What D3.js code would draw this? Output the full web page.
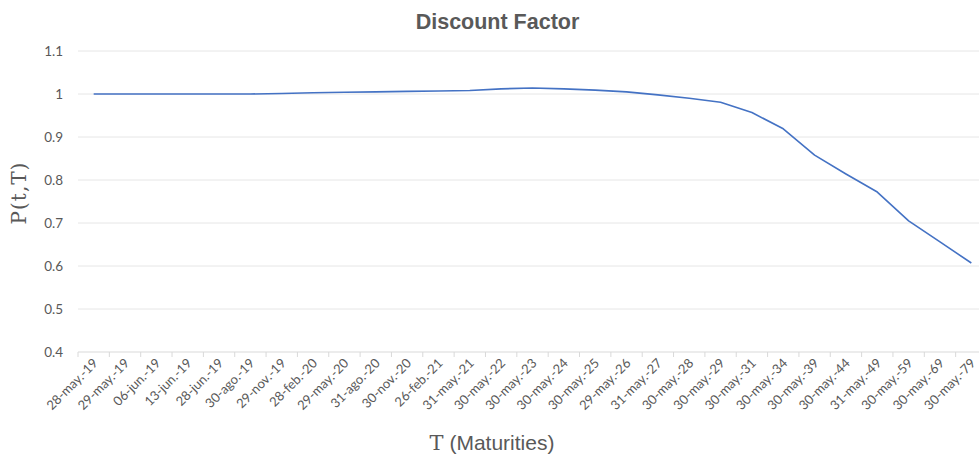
<!DOCTYPE html>
<html>
<head>
<meta charset="utf-8">
<script src="https://cdn.jsdelivr.net/npm/d3@7"></script>
<style>
  html, body { margin: 0; padding: 0; background: #fff; }
  svg { display: block; }
</style>
</head>
<body>
<svg id="chart" width="979" height="455"></svg>
<script>
// Maturity dates (category axis)
const maturities = [
  "28-may.-19", "29-may.-19", "06-jun.-19", "13-jun.-19", "28-jun.-19",
  "30-ago.-19", "29-nov.-19", "28-feb.-20", "29-may.-20", "31-ago.-20",
  "30-nov.-20", "26-feb.-21", "31-may.-21", "30-may.-22", "30-may.-23",
  "30-may.-24", "30-may.-25", "29-may.-26", "31-may.-27", "30-may.-28",
  "30-may.-29", "30-may.-31", "30-may.-34", "30-may.-39", "30-may.-44",
  "31-may.-49", "30-may.-59", "30-may.-69", "30-may.-79"
];

// Discount factor P(t,T) for each maturity
const discountFactors = [
  1.000, 1.000, 1.000, 1.000, 1.000,
  1.000, 1.001, 1.003, 1.004, 1.005,
  1.006, 1.007, 1.008, 1.012, 1.014,
  1.012, 1.009, 1.005, 0.998, 0.990,
  0.981, 0.957, 0.919, 0.858, 0.814,
  0.772, 0.705, 0.656, 0.607
];

// Value axis ticks
const yTicks = [0.4, 0.5, 0.6, 0.7, 0.8, 0.9, 1, 1.1];

const svg = d3.select("#chart");
const plot = { left: 78, right: 987, top: 51, bottom: 352 };
const labelFont = "Lato, 'Open Sans', sans-serif";
const mathFont = "'DejaVu Serif', 'Liberation Serif', serif";
const textColor = "#595959";

const x = d3.scaleBand().domain(maturities).range([plot.left, plot.right]).paddingInner(0).paddingOuter(0);
const y = d3.scaleLinear().domain([0.4, 1.1]).range([plot.bottom, plot.top]);

// Horizontal gridlines
svg.append("g")
  .selectAll("line")
  .data(yTicks.filter(d => d !== 0.4))
  .join("line")
  .attr("x1", plot.left).attr("x2", plot.right)
  .attr("y1", d => y(d)).attr("y2", d => y(d))
  .attr("stroke", "#e6e6e6").attr("stroke-width", 1);

// Y axis labels
const yAxis = d3.axisLeft(y).tickValues(yTicks).tickSize(0).tickPadding(15)
  .tickFormat(d => d3.format("~g")(d));
const gy = svg.append("g").attr("transform", `translate(${plot.left},0)`).call(yAxis);
gy.select(".domain").remove();
gy.selectAll("text")
  .attr("font-family", labelFont).attr("font-size", 13.5)
  .attr("fill", textColor);

// Category axis with tick marks at band boundaries
svg.append("line")
  .attr("x1", plot.left).attr("x2", plot.right)
  .attr("y1", plot.bottom).attr("y2", plot.bottom)
  .attr("stroke", "#d9d9d9").attr("stroke-width", 1);

const boundaries = maturities.map(m => x(m)).concat([plot.right]);
svg.append("g")
  .selectAll("line")
  .data(boundaries)
  .join("line")
  .attr("x1", d => d).attr("x2", d => d)
  .attr("y1", plot.bottom).attr("y2", plot.bottom + 5)
  .attr("stroke", "#d9d9d9").attr("stroke-width", 1);

svg.append("g")
  .selectAll("text")
  .data(maturities)
  .join("text")
  .attr("transform", d => `translate(${x(d) + x.bandwidth() / 2 + 5},${plot.bottom + 12}) rotate(-45)`)
  .attr("text-anchor", "end")
  .attr("font-family", labelFont)
  .attr("font-size", 13)
  .attr("fill", textColor)
  .text(d => d);

// Discount factor curve
const line = d3.line()
  .x((d, i) => x(maturities[i]) + x.bandwidth() / 2)
  .y(d => y(d));

svg.append("path")
  .datum(discountFactors)
  .attr("d", line)
  .attr("fill", "none")
  .attr("stroke", "#4472C4")
  .attr("stroke-width", 1.6)
  .attr("stroke-linejoin", "round");

// Title
svg.append("text")
  .attr("x", 497.5).attr("y", 29)
  .attr("text-anchor", "middle")
  .attr("font-family", "'Liberation Sans', Arial, sans-serif")
  .attr("font-weight", "bold")
  .attr("font-size", 21.5)
  .attr("fill", textColor)
  .text("Discount Factor");

// Axis titles
const xTitle = svg.append("text")
  .attr("x", 492).attr("y", 450)
  .attr("text-anchor", "middle")
  .attr("font-size", 21)
  .attr("fill", textColor);
xTitle.append("tspan").attr("font-family", mathFont).text("T");
xTitle.append("tspan").attr("font-family", "'Liberation Sans', Arial, sans-serif").text(" (Maturities)");

svg.append("text")
  .attr("transform", "translate(26,193) rotate(-90)")
  .attr("text-anchor", "middle")
  .attr("font-family", mathFont)
  .attr("font-size", 20)
  .attr("letter-spacing", 1)
  .attr("fill", textColor)
  .text("P(t,T)");
</script>
</body>
</html>
